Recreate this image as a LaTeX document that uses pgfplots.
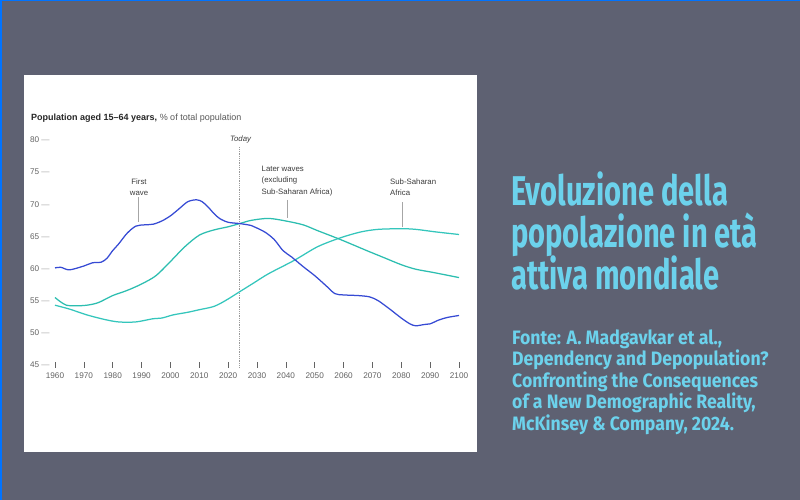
\documentclass[border=0pt]{standalone}
\usepackage{fontspec}
\setmainfont{Liberation Sans}
\newfontfamily\slidefont[FakeStretch=0.70]{Fira Sans}
\newfontfamily\sourcefont[FakeStretch=0.91]{Fira Sans}
\usepackage{pgfplots}
\usepackage{pgfplotstable}
\pgfplotsset{compat=1.18}

\definecolor{slidebg}{RGB}{94,97,114}
\definecolor{slidetext}{RGB}{108,210,236}
\definecolor{firstwave}{RGB}{54,74,212}
\definecolor{laterwave}{RGB}{44,190,176}
\definecolor{ssafrica}{RGB}{52,198,188}
\definecolor{ticktext}{RGB}{100,100,100}
\definecolor{annot}{RGB}{60,60,60}

% share of population aged 15-64, %
\pgfplotstableread{
year val
1960 60.1
1962 60.2
1965 59.8
1970 60.4
1973 60.9
1976 61.0
1978 61.6
1980 62.8
1982 63.8
1985 65.5
1988 66.6
1991 66.8
1994 66.9
1997 67.4
2000 68.2
2003 69.3
2006 70.4
2009 70.7
2011 70.4
2013 69.6
2015 68.6
2017 67.8
2020 67.2
2024 67.0
2028 66.7
2030 66.3
2033 65.6
2036 64.5
2039 62.8
2042 61.8
2046 60.3
2050 58.9
2054 57.3
2057 56.1
2060 55.9
2065 55.8
2069 55.6
2072 55.0
2076 53.7
2080 52.3
2083 51.4
2085 51.1
2088 51.3
2090 51.4
2093 52.0
2096 52.4
2100 52.7
}\firstwavetab

\pgfplotstableread{
year val
1960 55.5
1962 54.8
1964 54.3
1967 54.2
1971 54.3
1975 54.7
1980 55.8
1985 56.6
1990 57.6
1995 58.9
2000 61.1
2005 63.4
2010 65.2
2015 66.0
2020 66.5
2024 67.0
2028 67.5
2034 67.8
2040 67.4
2046 66.8
2051 65.9
2059 64.5
2068 62.8
2074 61.7
2080 60.6
2085 59.9
2091 59.4
2100 58.6
}\laterwavetab

\pgfplotstableread{
year val
1960 54.3
1965 53.7
1971 52.8
1977 52.1
1982 51.7
1988 51.7
1994 52.2
1997 52.3
2001 52.8
2006 53.2
2010 53.6
2015 54.1
2019 55.0
2024 56.4
2029 57.8
2034 59.2
2043 61.3
2051 63.4
2059 64.8
2066 65.7
2072 66.1
2080 66.2
2085 66.1
2092 65.7
2100 65.3
}\ssatab

\begin{document}
\begin{tikzpicture}[x=1pt,y=1pt]
% slide background and white panel
\fill[slidebg] (0,0) rectangle (800,500);
\fill[blue!55!cyan] (0,499) rectangle (800,500);
\fill[blue!55!cyan] (0,0) rectangle (1.5,500);
\fill[white] (24,48) rectangle (477,425);

\begin{axis}[
    at={(55pt,135pt)}, anchor=south west,
    scale only axis, width=404pt, height=225pt,
    xmin=1960, xmax=2100, ymin=45, ymax=80,
    clip=false,
    axis line style={draw=none},
    xtick={1960,1970,...,2100},
    ytick={45,50,...,80},
    xtick pos=bottom, ytick pos=left,
    tick align=center,
    major tick length=6pt,
    xtick style={draw=ticktext, line width=0.6pt},
    ytick style={draw=none},
    /pgf/number format/assume math mode=true,
    /pgf/number format/1000 sep={},
    tick label style={font=\fontsize{8.2}{9.5}\selectfont, text=ticktext},
    yticklabel={\pgfmathprintnumber{\tick}\hspace{2pt}{\color{gray!70}\textemdash}},
    yticklabel style={xshift=1pt},
    xticklabel style={yshift=-1pt},
]
\draw[densely dotted, gray!80, line width=0.8pt] (axis cs:2024,44.6) -- (axis cs:2024,78.9);
\draw[gray!70, line width=0.7pt] (axis cs:1989,71.1) -- (axis cs:1989,67.2);
\draw[gray!70, line width=0.7pt] (axis cs:2040.4,70.7) -- (axis cs:2040.4,67.9);
\draw[gray!70, line width=0.7pt] (axis cs:2080.5,70.3) -- (axis cs:2080.5,66.5);

\addplot[ssafrica, line width=1.25pt, smooth] table[x=year,y=val] {\ssatab};
\addplot[laterwave, line width=1.25pt, smooth] table[x=year,y=val] {\laterwavetab};
\addplot[firstwave, line width=1.25pt, smooth] table[x=year,y=val] {\firstwavetab};
\end{axis}

% chart title and annotations
\node[anchor=base west, inner sep=0, font=\fontsize{9}{11}\selectfont, text=black!85] at (31,379)
  {\textbf{Population aged 15–64 years,} {\color{black!65}\% of total population}};
\node[inner sep=0, font=\itshape\fontsize{7.8}{9}\selectfont, text=annot] at (240.5,360.7) {Today};
\node[inner sep=0, align=center, font=\fontsize{7.8}{11.2}\selectfont, text=annot, anchor=south] at (139,304)
  {First\\wave};
\node[inner sep=0, align=left, font=\fontsize{7.8}{11.2}\selectfont, text=annot, anchor=south west] at (261.5,304)
  {Later waves\\(excluding\\Sub-Saharan Africa)};
\node[inner sep=0, align=left, font=\fontsize{7.8}{11.2}\selectfont, text=annot, anchor=south west] at (390,304)
  {Sub-Saharan\\Africa};

% slide text
\begin{scope}[every node/.style={anchor=base west, inner sep=0, text=slidetext}]
\node[font=\slidefont\bfseries\fontsize{41.6}{42}\selectfont] at (511,294) {Evoluzione della};
\node[font=\slidefont\bfseries\fontsize{41.6}{42}\selectfont] at (511,252.3) {popolazione in età};
\node[font=\slidefont\bfseries\fontsize{41.6}{42}\selectfont] at (511,210.6) {attiva mondiale};
\node[font=\sourcefont\bfseries\fontsize{19.4}{22}\selectfont] at (512,155.5) {Fonte: A. Madgavkar et al.,};
\node[font=\sourcefont\bfseries\fontsize{19.4}{22}\selectfont] at (512,134) {Dependency and Depopulation?};
\node[font=\sourcefont\bfseries\fontsize{19.4}{22}\selectfont] at (512,112.5) {Confronting the Consequences};
\node[font=\sourcefont\bfseries\fontsize{19.4}{22}\selectfont] at (512,91) {of a New Demographic Reality,};
\node[font=\sourcefont\bfseries\fontsize{19.4}{22}\selectfont] at (512,69.5) {McKinsey \& Company, 2024.};
\end{scope}
\end{tikzpicture}
\end{document}
